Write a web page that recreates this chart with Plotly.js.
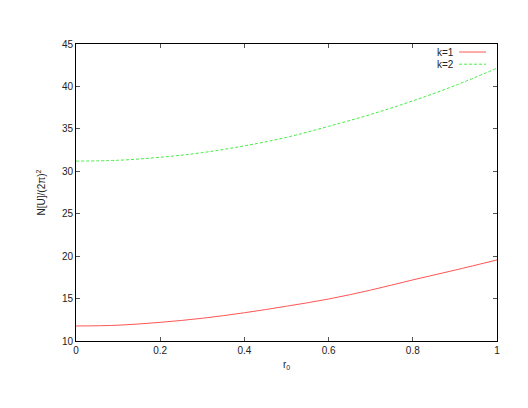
<!DOCTYPE html>
<html>
<head>
<meta charset="utf-8">
<script src="https://cdn.plot.ly/plotly-3.0.1.min.js"></script>
<style>html,body{margin:0;padding:0;background:#fff;}#chart{width:528px;height:408px;}</style>
</head>
<body>
<div id="chart"></div>
<script>
const r0 = [0, 0.1, 0.2, 0.3, 0.4, 0.5, 0.6, 0.7, 0.8, 0.9, 1.0];
const k1 = [11.77, 11.86, 12.2, 12.68, 13.33, 14.1, 14.95, 16.0, 17.2, 18.35, 19.55];
const k2 = [31.2, 31.3, 31.65, 32.2, 33.0, 34.0, 35.3, 36.7, 38.3, 40.1, 42.15];
const seriesNames = ["k=1", "k=2"];
const xTicks = [0, 0.2, 0.4, 0.6, 0.8, 1];
const xTickText = ["0", "0.2", "0.4", "0.6", "0.8", "1"];
const yTicks = [10, 15, 20, 25, 30, 35, 40, 45];

const font = {family: "Liberation Sans, Arial, sans-serif", size: 10, color: "#222"};
const red = "#ff5555";
const green = "#44ee44";

const traces = [
  {x: r0, y: k1, mode: "lines", name: seriesNames[0], line: {color: red, width: 1, shape: "spline"}},
  {x: r0, y: k2, mode: "lines", name: seriesNames[1], line: {color: green, width: 1, dash: "3px,2px", shape: "spline"}}
];

const axisCommon = {
  showline: true, linecolor: "#000", linewidth: 1, mirror: "ticks",
  ticks: "inside", ticklen: 4, tickcolor: "#555", tickwidth: 1,
  showgrid: false, zeroline: false, tickfont: font
};

const legY = [0.973, 0.932];

const layout = {
  width: 528, height: 408,
  margin: {l: 76, r: 31, t: 44, b: 67},
  paper_bgcolor: "#fff", plot_bgcolor: "#fff",
  showlegend: false,
  xaxis: Object.assign({}, axisCommon, {
    range: [0, 1], tickvals: xTicks, ticktext: xTickText,
    title: {text: "r<sub>0</sub>", font: font, standoff: 5}
  }),
  yaxis: Object.assign({}, axisCommon, {
    range: [10, 45], tickvals: yTicks,
    title: {text: "N[U]/(2π)<sup>2</sup>", font: font, standoff: 14}
  }),
  annotations: [
    {xref: "paper", yref: "paper", x: 0.9, y: legY[0], xanchor: "right", yanchor: "middle", text: seriesNames[0], showarrow: false, font: font, borderpad: 0},
    {xref: "paper", yref: "paper", x: 0.9, y: legY[1], xanchor: "right", yanchor: "middle", text: seriesNames[1], showarrow: false, font: font, borderpad: 0}
  ],
  shapes: [
    {type: "line", xref: "paper", yref: "paper", x0: 0.91, x1: 0.974, y0: legY[0], y1: legY[0], line: {color: red, width: 1}},
    {type: "line", xref: "paper", yref: "paper", x0: 0.91, x1: 0.974, y0: legY[1], y1: legY[1], line: {color: green, width: 1, dash: "3px,2px"}}
  ]
};

Plotly.newPlot("chart", traces, layout, {displayModeBar: false, staticPlot: true});
</script>
</body>
</html>
